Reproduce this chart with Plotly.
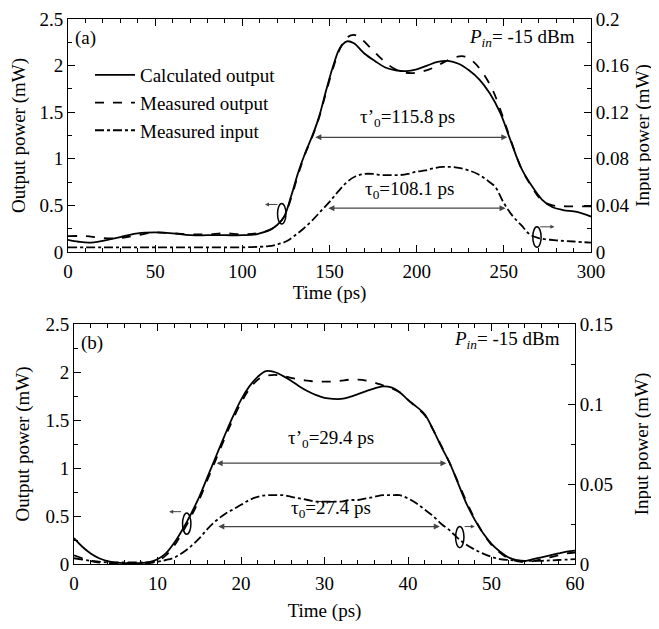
import plotly.graph_objects as go

# ---------------- Panel (a) data ----------------
ta_calc = [0, 6, 12, 20, 30, 40, 50, 60, 70, 80, 90, 100, 108, 116, 120, 124, 128, 132, 136, 140,
           144, 148, 152, 156, 160, 164, 170, 176, 182, 188, 194, 200, 206, 212, 218, 224, 230,
           236, 242, 248, 254, 260, 266, 272, 278, 284, 292, 300]
pa_calc = [0.13, 0.11, 0.10, 0.12, 0.16, 0.20, 0.21, 0.20, 0.18, 0.18, 0.18, 0.18, 0.19, 0.24, 0.29,
           0.38, 0.60, 0.85, 1.06, 1.24, 1.45, 1.73, 1.99, 2.19, 2.26, 2.24, 2.13, 2.05, 1.98, 1.95,
           1.94, 1.96, 2.00, 2.04, 2.05, 2.02, 1.95, 1.85, 1.70, 1.49, 1.19, 0.90, 0.71, 0.56, 0.48,
           0.45, 0.43, 0.38]

ta_meas = [0, 10, 20, 30, 40, 50, 60, 70, 80, 90, 100, 108, 115, 120, 124, 128, 132, 136, 140, 144,
           148, 152, 156, 160, 164, 168, 174, 180, 186, 192, 198, 204, 210, 216, 222, 227, 232, 238,
           244, 250, 254, 260, 266, 272, 278, 286, 300]
pa_meas = [0.17, 0.17, 0.15, 0.15, 0.18, 0.21, 0.20, 0.19, 0.19, 0.20, 0.19, 0.20, 0.23, 0.29, 0.38,
           0.58, 0.83, 1.05, 1.23, 1.44, 1.71, 1.97, 2.18, 2.30, 2.33, 2.29, 2.18, 2.07, 1.98, 1.93,
           1.92, 1.94, 1.98, 2.04, 2.09, 2.10, 2.05, 1.92, 1.72, 1.42, 1.20, 0.90, 0.70, 0.55, 0.50,
           0.49, 0.49]

ta_in = [0, 20, 40, 60, 80, 100, 110, 115, 120, 125, 130, 135, 140, 145, 150, 155, 160, 165, 170,
         175, 180, 185, 190, 195, 200, 205, 210, 215, 220, 225, 230, 235, 240, 245, 250, 255, 260,
         265, 270, 280, 290, 300]
pa_in = [0.004, 0.004, 0.004, 0.004, 0.004, 0.004, 0.0045, 0.005, 0.0065, 0.009, 0.014, 0.020, 0.027,
         0.035, 0.043, 0.052, 0.060, 0.065, 0.067, 0.067, 0.066, 0.066, 0.066, 0.067, 0.069, 0.070,
         0.072, 0.073, 0.073, 0.072, 0.070, 0.067, 0.062, 0.056, 0.042, 0.031, 0.023, 0.015, 0.012,
         0.010, 0.009, 0.008]

# ---------------- Panel (b) data ----------------
tb = list(range(0, 61))
pb_calc = [0.27, 0.18, 0.11, 0.06, 0.03, 0.015, 0.01, 0.01, 0.01, 0.02, 0.05, 0.11, 0.22, 0.36, 0.52,
           0.70, 0.91, 1.12, 1.33, 1.53, 1.71, 1.85, 1.95, 2.01, 2.00, 1.96, 1.91, 1.85, 1.80, 1.76,
           1.73, 1.72, 1.72, 1.74, 1.77, 1.80, 1.83, 1.85, 1.84, 1.79, 1.71, 1.64, 1.56, 1.40, 1.22,
           1.05, 0.84, 0.63, 0.46, 0.32, 0.21, 0.13, 0.07, 0.04, 0.03, 0.05, 0.07, 0.09, 0.11, 0.13,
           0.14]
pb_meas = [0.09, 0.06, 0.03, 0.015, 0.01, 0.01, 0.01, 0.01, 0.01, 0.01, 0.03, 0.09, 0.19, 0.33, 0.49,
           0.67, 0.88, 1.09, 1.30, 1.50, 1.68, 1.82, 1.92, 1.96, 1.97, 1.96, 1.94, 1.92, 1.91, 1.90,
           1.90, 1.90, 1.91, 1.92, 1.92, 1.91, 1.89, 1.86, 1.83, 1.79, 1.71, 1.63, 1.55, 1.40, 1.23,
           1.05, 0.85, 0.65, 0.47, 0.32, 0.20, 0.12, 0.06, 0.03, 0.02, 0.03, 0.05, 0.07, 0.09, 0.11,
           0.12]
tb_in = [0, 2, 4, 6, 8, 10, 11, 12, 13, 14, 15, 16, 17, 18, 19, 20, 21, 22, 23, 24, 25, 26, 27, 28,
         29, 30, 31, 32, 33, 34, 35, 36, 37, 38, 39, 40, 41, 42, 43, 44, 45, 46, 47, 48, 49, 50, 51,
         52, 54, 56, 58, 60]
pb_in = [0.0036, 0.002, 0.001, 0.001, 0.001, 0.0015, 0.0025, 0.004, 0.007, 0.011, 0.016, 0.022,
         0.027, 0.031, 0.034, 0.037, 0.040, 0.042, 0.043, 0.043, 0.043, 0.042, 0.041, 0.040, 0.039,
         0.039, 0.039, 0.039, 0.040, 0.040, 0.041, 0.042, 0.043, 0.043, 0.043, 0.041, 0.038, 0.034,
         0.030, 0.025, 0.021, 0.016, 0.012, 0.009, 0.0065, 0.0045, 0.003, 0.0025, 0.002, 0.002,
         0.0025, 0.003]

legend_names = ["Calculated output", "Measured output", "Measured input"]

FONT = "Liberation Serif"
W, H = 659, 629
OFF = 8  # page body margin
FS = 19

def px_x(p):
    return (p - OFF) / W

def px_y(p):
    return 1 - (p - OFF) / H

fig = go.Figure()
lw = 1.8
fig.add_trace(go.Scatter(x=ta_calc, y=pa_calc, mode="lines", name=legend_names[0],
                         line=dict(color="black", width=lw, shape="spline"), xaxis="x", yaxis="y"))
fig.add_trace(go.Scatter(x=ta_meas, y=pa_meas, mode="lines", name=legend_names[1],
                         line=dict(color="black", width=lw, dash="dash", shape="spline"), xaxis="x", yaxis="y"))
fig.add_trace(go.Scatter(x=ta_in, y=pa_in, mode="lines", name=legend_names[2],
                         line=dict(color="black", width=lw, dash="dashdot", shape="spline"), xaxis="x", yaxis="y2"))
fig.add_trace(go.Scatter(x=tb, y=pb_calc, mode="lines", showlegend=False,
                         line=dict(color="black", width=lw, shape="spline"), xaxis="x2", yaxis="y3"))
fig.add_trace(go.Scatter(x=tb, y=pb_meas, mode="lines", showlegend=False,
                         line=dict(color="black", width=lw, dash="dash", shape="spline"), xaxis="x2", yaxis="y3"))
fig.add_trace(go.Scatter(x=tb_in, y=pb_in, mode="lines", showlegend=False,
                         line=dict(color="black", width=lw, dash="dashdot", shape="spline"), xaxis="x2", yaxis="y4"))

tickfont = dict(family=FONT, size=FS, color="black")
titlefont = dict(family=FONT, size=FS, color="black")

def xax(dom, rng, dtick, mdtick, anchor, standoff=2):
    return dict(domain=dom, range=rng, dtick=dtick, anchor=anchor, showline=True, linecolor="black",
                linewidth=1, mirror="ticks", ticks="inside", ticklen=7, tickcolor="black",
                tickfont=tickfont, showgrid=False, zeroline=False, automargin=False,
                ticklabelstandoff=2, ticklabeloverflow="allow",
                minor=dict(dtick=mdtick, ticks="inside", ticklen=4, tickcolor="black", showgrid=False),
                title=dict(text="Time (ps)", font=titlefont, standoff=standoff))

def yax(dom, rng, dtick, mdtick, anchor, title, side="left", overlay=None, standoff=6):
    d = dict(range=rng, dtick=dtick, anchor=anchor, showline=True, linecolor="black", linewidth=1,
             ticks="inside", ticklen=7, tickcolor="black", tickfont=tickfont, showgrid=False,
             zeroline=False, side=side, automargin=False, ticklabeloverflow="allow",
             minor=dict(dtick=mdtick, ticks="inside", ticklen=4, tickcolor="black", showgrid=False),
             title=dict(text=title, font=titlefont, standoff=standoff))
    if overlay:
        d["overlaying"] = overlay
    else:
        d["domain"] = dom
    return d

xa = [px_x(68), px_x(591)]
ya = [px_y(252), px_y(19)]
xb = [px_x(74), px_x(575)]
yb = [px_y(564), px_y(324)]

fig.update_layout(
    width=W, height=H, margin=dict(l=0, r=0, t=0, b=0, autoexpand=False),
    paper_bgcolor="white", plot_bgcolor="white",
    font=dict(family=FONT, size=FS, color="black"),
    xaxis=xax(xa, [0, 300], 50, 10, "y", standoff=1),
    yaxis=yax(ya, [0, 2.5], 0.5, 0.25, "x", "Output power (mW)", standoff=10),
    yaxis2=yax(None, [0, 0.2], 0.04, 0.02, "x", "Input power (mW)", side="right", overlay="y", standoff=7),
    xaxis2=xax(xb, [0, 60], 10, 2, "y3", standoff=10),
    yaxis3=yax(yb, [0, 2.5], 0.5, 0.25, "x2", "Output power (mW)", standoff=10),
    yaxis4=yax(None, [0, 0.15], 0.05, 0.025, "x2", "Input power (mW)", side="right", overlay="y3", standoff=22),
    legend=dict(x=px_x(90), y=px_y(56), xanchor="left", yanchor="top", bgcolor="rgba(0,0,0,0)",
                font=dict(family=FONT, size=FS, color="black"), tracegroupgap=0, itemwidth=40),
)

ac = "#444444"
def darrow(xr, yr, x0, x1, y):
    fig.add_annotation(x=x1, y=y, ax=x0, ay=y, xref=xr, yref=yr, axref=xr, ayref=yr, text="",
                       showarrow=True, arrowhead=2, startarrowhead=2, arrowside="end+start",
                       arrowsize=1, arrowwidth=1.2, arrowcolor=ac, startarrowsize=1)

def sarrow(xr, yr, x0, x1, y):
    fig.add_annotation(x=x1, y=y, ax=x0, ay=y, xref=xr, yref=yr, axref=xr, ayref=yr, text="",
                       showarrow=True, arrowhead=2, arrowsize=0.8, arrowwidth=1, arrowcolor=ac)

def label(xr, yr, x, y, text, xanchor="center"):
    fig.add_annotation(x=x, y=y, xref=xr, yref=yr, text=text, showarrow=False, xanchor=xanchor,
                       font=dict(family=FONT, size=FS, color="black"))

def ellipse(xr, yr, xc, yc, dx, dy):
    fig.add_shape(type="circle", xref=xr, yref=yr, x0=xc - dx, x1=xc + dx, y0=yc - dy, y1=yc + dy,
                  line=dict(color="black", width=1.5))

# panel (a) annotations
darrow("x", "y", 141, 252, 1.23)
label("x", "y", 195, 1.44, "τ’<sub>0</sub>=115.8 ps")
darrow("x", "y", 148.5, 251, 0.47)
label("x", "y", 196, 0.66, "τ<sub>0</sub>=108.1 ps")
label("x", "y", 10, 2.30, "(a)")
label("x", "y", 292, 2.30, "<i>P</i><sub><i>in</i></sub>= -15 dBm", xanchor="right")
ellipse("x", "y", 122.6, 0.41, 2.4, 0.11)
sarrow("x", "y", 121, 113, 0.51)
ellipse("x", "y", 269, 0.16, 2.4, 0.11)
sarrow("x", "y", 270, 279, 0.27)

# panel (b) annotations
darrow("x2", "y3", 16.9, 44.6, 1.05)
label("x2", "y3", 30.8, 1.30, "τ’<sub>0</sub>=29.4 ps")
darrow("x2", "y3", 17.1, 43.8, 0.39)
label("x2", "y3", 30.8, 0.57, "τ<sub>0</sub>=27.4 ps")
label("x2", "y3", 2.2, 2.30, "(b)")
label("x2", "y3", 58.4, 2.33, "<i>P</i><sub><i>in</i></sub>= -15 dBm", xanchor="right")
ellipse("x2", "y3", 13.5, 0.42, 0.5, 0.11)
sarrow("x2", "y3", 13.0, 11.4, 0.545)
ellipse("x2", "y3", 46.2, 0.28, 0.5, 0.11)
sarrow("x2", "y3", 46.6, 48.0, 0.39)

fig.write_html("out.html")
